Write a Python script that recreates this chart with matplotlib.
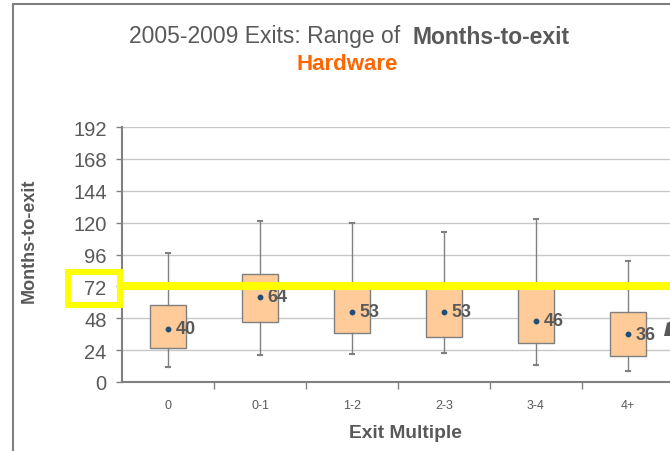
import matplotlib
matplotlib.use('Agg')
import matplotlib.pyplot as plt
from matplotlib.patches import Rectangle, Polygon

plt.rcParams['font.family'] = ['Liberation Sans', 'DejaVu Sans']

# data (months-to-exit by exit multiple)
categories = ['0', '0-1', '1-2', '2-3', '3-4', '4+']
whisker_low = [11.5, 20, 21, 22, 13, 8]
box_low = [25.5, 45, 37, 34, 29.5, 19.5]
box_high = [58, 81.5, 71, 71, 71, 53]
whisker_high = [97, 121.5, 120, 113, 123, 91]
means = [40, 64, 53, 53, 46, 36]
highlight = 72

grey = '#595959'

fig = plt.figure(figsize=(6.7, 4.52), dpi=100)
W, H = 670, 452
ax = fig.add_axes([122 / W, (H - 383) / H, 552 / W, 255 / H])

stats = []
for i in range(len(categories)):
    stats.append(dict(whislo=whisker_low[i], q1=box_low[i], med=means[i],
                      q3=box_high[i], whishi=whisker_high[i], fliers=[]))
pos = list(range(len(categories)))
ax.bxp(stats, positions=pos, widths=0.4, patch_artist=True, showfliers=False,
       boxprops=dict(facecolor='#FFCC99', edgecolor='#7F7F7F', linewidth=1),
       whiskerprops=dict(color='#808080', linewidth=1),
       capprops=dict(color='#808080', linewidth=1.5),
       capwidths=0.04,
       medianprops=dict(visible=False))
ax.plot(pos, means, linestyle='none', marker='o', markersize=3.2,
        color='#1F4E79', zorder=4)
for x, m in zip(pos, means):
    ax.annotate(str(m), (x, m), xytext=(5.5, 0), textcoords='offset points',
                ha='left', va='center', fontsize=13, fontweight='bold',
                color=grey, zorder=5)

ax.axhline(highlight, color='#FFFF00', linewidth=5.8, zorder=6)

ax.set_xlim(-0.5, len(categories) - 0.5)
ax.set_ylim(0, 192)
ax.set_yticks(range(0, 193, 24))
ax.set_xticks(pos)
ax.set_xticklabels(categories)
ax.set_xticks([p + 0.5 for p in pos], minor=True)
ax.tick_params(axis='x', which='major', length=0, pad=12, labelsize=9,
               labelcolor=grey)
ax.tick_params(axis='x', which='minor', length=5, width=1, color='#808080',
               direction='out')
ax.tick_params(axis='y', length=4, width=1, color='#808080', pad=7,
               labelsize=14.5, labelcolor=grey)
ax.grid(axis='y', color='#C8C8C8', linewidth=1)
ax.set_axisbelow(True)
for s in ['top', 'right']:
    ax.spines[s].set_visible(False)
for s in ['left', 'bottom']:
    ax.spines[s].set_color('#808080')
    ax.spines[s].set_linewidth(1.5)

ax.set_xlabel('Exit Multiple', fontsize=13.8, fontweight='bold', color=grey)
ax.set_ylabel('Months-to-exit', fontsize=13, fontweight='bold', color=grey)
ax.yaxis.set_label_coords(-(122 - 38) / 552, (383 - 241) / 255)
ax.xaxis.set_label_coords((405 - 122) / 552, -(425 - 383) / 255)

# yellow box round the 72 label
fig.patches.append(Rectangle((68 / W, (H - 306) / H), 51.7 / W, 33 / H,
                             transform=fig.transFigure, fill=False,
                             edgecolor='#FFFF00', linewidth=4.3))

# frame of the slide
fig.patches.append(Rectangle((13 / W, -0.1), 1.2, 1.1 - 5 / H,
                             transform=fig.transFigure, fill=False,
                             edgecolor='#7F7F7F', linewidth=1.5))

# cut-off callout at the right edge
fig.patches.append(Polygon([(664 / W, (H - 337) / H), (667 / W, (H - 324) / H),
                            (671 / W, (H - 322) / H), (671 / W, (H - 337) / H)],
                           closed=True, transform=fig.transFigure,
                           facecolor='#595959', edgecolor='none'))

# title with mixed weights
r = fig.canvas.get_renderer()
t1 = fig.text(0, 0, '2005-2009 Exits: Range of  ', fontsize=16.5, color=grey)
t2 = fig.text(0, 0, 'Months-to-exit', fontsize=16.5, fontweight='bold',
              color=grey)
w1 = t1.get_window_extent(r).width
w2 = t2.get_window_extent(r).width
x0 = 349.5 - (w1 + w2) / 2
t1.set_position((x0 / W, (H - 37) / H))
t2.set_position(((x0 + w1) / W, (H - 37) / H))
t1.set_va('center')
t2.set_va('center')
fig.text(347.5 / W, (H - 64) / H, 'Hardware', fontsize=16, fontweight='bold',
         color='#FF6600', ha='center', va='center')

fig.savefig('out.png', dpi=100)
